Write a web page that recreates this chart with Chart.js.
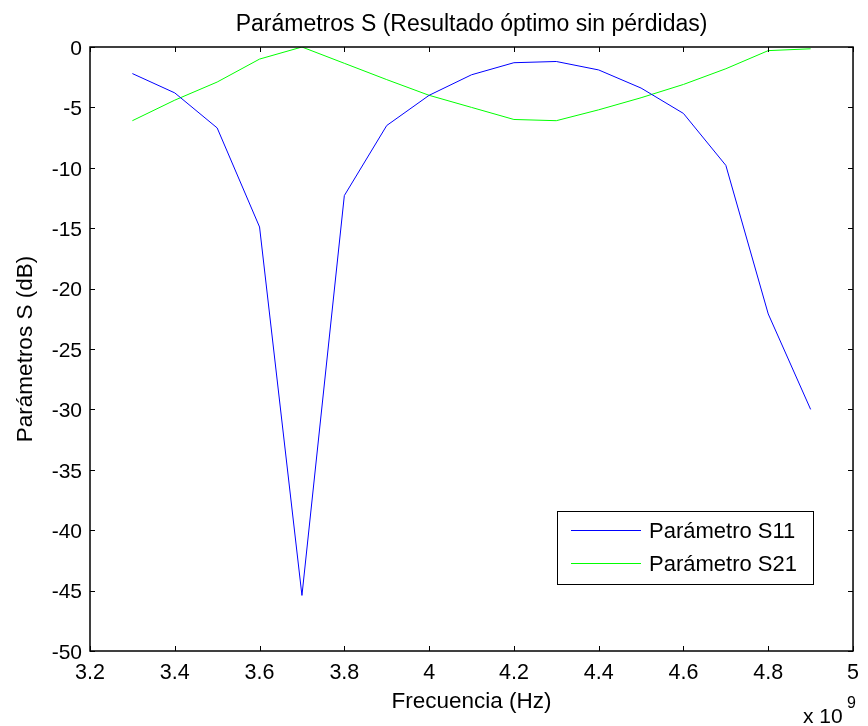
<!DOCTYPE html>
<html>
<head>
<meta charset="utf-8">
<script src="https://cdn.jsdelivr.net/npm/chart.js@4"></script>
<style>
  html, body { margin: 0; padding: 0; background: #fff; }
  canvas { display: block; }
</style>
</head>
<body>
<canvas id="sChart" width="868" height="726"></canvas>
<script>
// Frecuencias (Hz)
const frequencies = [3.3e9, 3.4e9, 3.5e9, 3.6e9, 3.7e9, 3.8e9, 3.9e9, 4.0e9, 4.1e9,
                     4.2e9, 4.3e9, 4.4e9, 4.5e9, 4.6e9, 4.7e9, 4.8e9, 4.9e9];
// Parámetro S11 (dB)
const s11 = [-2.2, -3.8, -6.7, -14.9, -45.4, -12.3, -6.5, -4.0, -2.3,
             -1.3, -1.2, -1.9, -3.4, -5.5, -9.8, -22.1, -30.0];
// Parámetro S21 (dB)
const s21 = [-6.1, -4.4, -2.9, -1.0, 0.0, -1.35, -2.7, -4.0, -5.0,
             -6.0, -6.1, -5.2, -4.2, -3.1, -1.8, -0.3, -0.15];
const seriesLabels = ['Parámetro S11', 'Parámetro S21'];
const seriesColors = ['#0000ff', '#00ff00'];

const FONT = "Arial, 'Liberation Sans', sans-serif";

// caja + marcas hacia dentro (estilo MATLAB)
const boxPlugin = {
    id: 'boxPlugin',
    afterDatasetsDraw(chart) {
        const { ctx, chartArea: a, scales } = chart;
        const tl = 5;
        ctx.save();
        ctx.strokeStyle = '#000';
        ctx.lineWidth = 1;
        ctx.beginPath();
        scales.x.ticks.forEach(t => {
            const x = Math.round(scales.x.getPixelForValue(t.value)) + 0.5;
            ctx.moveTo(x, a.bottom); ctx.lineTo(x, a.bottom - tl);
            ctx.moveTo(x, a.top); ctx.lineTo(x, a.top + tl);
        });
        scales.y.ticks.forEach(t => {
            const y = Math.round(scales.y.getPixelForValue(t.value)) + 0.5;
            ctx.moveTo(a.left, y); ctx.lineTo(a.left + tl, y);
            ctx.moveTo(a.right, y); ctx.lineTo(a.right - tl, y);
        });
        ctx.stroke();
        ctx.lineWidth = 1.5;
        ctx.strokeRect(a.left, a.top, a.right - a.left, a.bottom - a.top);

        // x 10^9
        ctx.fillStyle = '#000';
        ctx.textBaseline = 'alphabetic';
        ctx.textAlign = 'left';
        ctx.font = '21px ' + FONT;
        ctx.fillText('x 10', 803, 723);
        ctx.font = '16px ' + FONT;
        ctx.fillText('9', 847, 708);

        // leyenda
        const lx = 557, ly = 511, lw = 256, lh = 73;
        ctx.fillStyle = '#fff';
        ctx.fillRect(lx, ly, lw, lh);
        ctx.lineWidth = 1;
        ctx.strokeStyle = '#000';
        ctx.strokeRect(lx + 0.5, ly + 0.5, lw, lh);
        ctx.font = '22px ' + FONT;
        ctx.textBaseline = 'middle';
        chart.data.datasets.forEach((ds, i) => {
            const y = ly + 19.5 + i * 33;
            ctx.strokeStyle = ds.borderColor;
            ctx.beginPath();
            ctx.moveTo(lx + 14, y); ctx.lineTo(lx + 84, y);
            ctx.stroke();
            ctx.fillStyle = '#000';
            ctx.fillText(ds.label, lx + 92, y + 1);
        });
        ctx.restore();
    }
};

new Chart(document.getElementById('sChart').getContext('2d'), {
    type: 'line',
    data: {
        datasets: [s11, s21].map((vals, i) => ({
            label: seriesLabels[i],
            data: frequencies.map((f, j) => ({ x: f, y: vals[j] })),
            borderColor: seriesColors[i],
            backgroundColor: seriesColors[i],
            borderWidth: 1,
            pointRadius: 0,
            tension: 0,
            fill: false
        }))
    },
    options: {
        responsive: false,
        animation: false,
        layout: { padding: { left: 0, right: 11, top: 0, bottom: 0 } },
        plugins: {
            legend: { display: false },
            tooltip: { enabled: false },
            title: {
                display: true,
                fullSize: false,
                text: 'Parámetros S (Resultado óptimo sin pérdidas)',
                color: '#000',
                font: { family: FONT, size: 23, weight: 'normal' },
                padding: { top: 10.5, bottom: 8.9 }
            }
        },
        scales: {
            x: {
                type: 'linear',
                min: 3.2e9,
                max: 5e9,
                afterFit: (scale) => { scale.height = 75; },
                grid: { display: false, drawTicks: false },
                border: { display: false },
                ticks: {
                    stepSize: 0.2e9,
                    padding: 9,
                    color: '#000',
                    maxRotation: 0,
                    font: { family: FONT, size: 21.5 },
                    callback: (v) => Math.round(v / 1e8) / 10
                },
                title: {
                    display: true,
                    text: 'Frecuencia (Hz)',
                    color: '#000',
                    font: { family: FONT, size: 22.5 },
                    padding: { top: 0, bottom: 11 }
                }
            },
            y: {
                min: -50,
                max: 0,
                afterFit: (scale) => { scale.width = 90; },
                grid: { display: false, drawTicks: false },
                border: { display: false },
                ticks: {
                    stepSize: 5,
                    padding: 8,
                    labelOffset: 2,
                    color: '#000',
                    font: { family: FONT, size: 21 }
                },
                title: {
                    display: true,
                    text: 'Parámetros S (dB)',
                    color: '#000',
                    font: { family: FONT, size: 22.5 },
                    padding: { top: 12.5, bottom: 0 }
                }
            }
        }
    },
    plugins: [boxPlugin]
});
</script>
</body>
</html>
